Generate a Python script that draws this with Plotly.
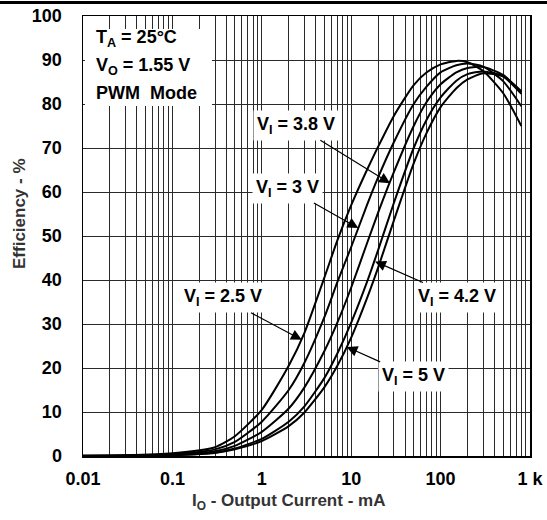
import math
import plotly.graph_objects as go

# ---------------- data ----------------
current_mA = [0.01, 0.03, 0.1, 0.3, 0.5, 1, 2, 3, 5, 7, 10, 15, 20, 30, 50,
              70, 100, 150, 200, 300, 500, 800]

eff_vi_2_5 = [0.05, 0.15, 0.6, 2.0, 4.5, 10.5, 20.5, 28.0, 40.5, 49.0, 57.0,
              65.0, 70.3, 77.3, 84.3, 87.2, 89.0, 89.8, 89.5, 87.5, 82.5, 75.0]
eff_vi_3_0 = [0.04, 0.1, 0.4, 1.5, 3.2, 7.8, 15.0, 21.2, 31.5, 39.5, 47.5,
              57.0, 63.3, 71.3, 80.0, 84.0, 87.2, 88.8, 89.2, 88.5, 85.2, 79.5]
eff_vi_3_8 = [0.03, 0.08, 0.3, 1.1, 2.3, 5.5, 10.8, 15.6, 23.8, 30.3, 38.3,
              48.3, 55.3, 64.5, 75.0, 80.5, 84.5, 87.2, 88.2, 88.4, 86.6, 82.6]
eff_vi_4_2 = [0.02, 0.06, 0.2, 0.8, 1.7, 3.9, 7.8, 11.3, 17.7, 23.3, 30.3,
              39.5, 46.8, 57.5, 70.0, 76.5, 81.5, 85.3, 86.8, 87.4, 86.4, 82.9]
eff_vi_5_0 = [0.02, 0.05, 0.18, 0.7, 1.5, 3.4, 6.8, 9.9, 15.6, 20.5, 26.9,
              35.8, 42.8, 53.5, 66.5, 73.5, 79.3, 83.6, 85.6, 87.0, 86.2, 82.3]

series = [eff_vi_2_5, eff_vi_3_0, eff_vi_3_8, eff_vi_4_2, eff_vi_5_0]
series_names = ["VI = 2.5 V", "VI = 3 V", "VI = 3.8 V", "VI = 4.2 V", "VI = 5 V"]

x_decades = [0.01, 0.1, 1, 10, 100, 1000]
x_decade_labels = ["0.01", "0.1", "1", "10", "100", "1 k"]
y_ticks = [0, 10, 20, 30, 40, 50, 60, 70, 80, 90, 100]

# ---------------- figure ----------------
FONT = "Liberation Sans, Arial, sans-serif"
TXT = 18
GRID = "#2a2a2a"

fig = go.Figure()
for vals, name in zip(series, series_names):
    fig.add_trace(go.Scatter(
        x=current_mA, y=vals, mode="lines", name=name,
        line=dict(color="black", width=2, shape="spline", smoothing=0.6),
        showlegend=False, hoverinfo="skip"))

# minor log grid at 2..9 of each decade
minor_vals = [m * 10 ** e for e in range(-2, 3) for m in range(2, 10)]

fig.update_xaxes(
    type="log", range=[-2, 3],
    tickmode="array", tickvals=x_decades, ticktext=x_decade_labels,
    showgrid=True, gridcolor=GRID, gridwidth=1,
    minor=dict(tickmode="array", tickvals=minor_vals, showgrid=True,
               gridcolor=GRID, gridwidth=1, ticks=""),
    showline=True, linecolor="black", linewidth=1.5, mirror=True,
    ticks="", ticklabelstandoff=6, ticklabeloverflow="allow",
    tickfont=dict(family=FONT, size=TXT, color="black", weight="bold"),
    zeroline=False)
fig.update_yaxes(
    range=[0, 100], tickmode="array", tickvals=y_ticks,
    showgrid=True, gridcolor=GRID, gridwidth=1,
    showline=True, linecolor="black", linewidth=1.5, mirror=True,
    ticks="", ticklabelstandoff=16,
    tickfont=dict(family=FONT, size=TXT, color="black", weight="bold"),
    zeroline=False)

L, R, T, B = 83, 17, 16, 64
W, H = 547, 520
pw, ph = W - L - R, H - T - B


def px_to_paper(px, py):
    return (px - L) / pw, (H - B - py) / ph


shapes = []
# white box behind the conditions text
x0, y1 = px_to_paper(85, 29)
x1, y0 = px_to_paper(212, 106)
shapes.append(dict(type="rect", xref="paper", yref="paper", x0=x0, x1=x1,
                   y0=y0, y1=y1, fillcolor="white", line=dict(width=0),
                   layer="above"))
# top rule
rx0, ry = px_to_paper(0, 2.5)
rx1, _ = px_to_paper(W, 2.5)
shapes.append(dict(type="line", xref="paper", yref="paper", x0=rx0, x1=rx1,
                   y0=ry, y1=ry, line=dict(color="black", width=3),
                   layer="above"))

annotations = []
cond_lines = [("T<sub>A</sub> = 25°C", 39), ("V<sub>O</sub> = 1.55 V", 66),
              ("PWM\u00a0 Mode", 93)]
for txt, py in cond_lines:
    ax_, ay_ = px_to_paper(94, py)
    annotations.append(dict(text="<b>" + txt + "</b>", xref="paper",
                            yref="paper", x=ax_, y=ay_, xanchor="left",
                            yanchor="middle", showarrow=False,
                            font=dict(family=FONT, size=TXT, color="black")))

# curve labels with arrows: (text, tip current, tip efficiency, dx, dy)
arrow_labels = [
    ("V<sub>I</sub> = 3.8 V", 27.2, 62.0, -94, -58),
    ("V<sub>I</sub> = 3 V", 12.0, 51.8, -71, -40),
    ("V<sub>I</sub> = 2.5 V", 2.8, 26.4, -79, -42),
    ("V<sub>I</sub> = 4.2 V", 18.5, 44.2, 82, 36),
    ("V<sub>I</sub> = 5 V", 8.9, 24.8, 67, 30),
]
for txt, xv, yv, dx, dy in arrow_labels:
    annotations.append(dict(
        text="<b>" + txt + "</b>", x=math.log10(xv), y=yv, xref="x", yref="y",
        ax=dx, ay=dy, showarrow=True, arrowhead=2, arrowsize=1.8,
        arrowwidth=1.2, arrowcolor="black", bgcolor="white", borderpad=3,
        font=dict(family=FONT, size=TXT, color="black")))

# axis titles
tx, ty = px_to_paper(20, 214)
annotations.append(dict(text="<b>Efficiency - %</b>", xref="paper",
                        yref="paper", x=tx, y=ty, textangle=-90,
                        showarrow=False, xanchor="center", yanchor="middle",
                        font=dict(family=FONT, size=17, color="#333333")))
tx, ty = px_to_paper(288, 502)
annotations.append(dict(text="<b>I<sub>O</sub> - Output Current - mA</b>",
                        xref="paper", yref="paper", x=tx, y=ty,
                        showarrow=False, xanchor="center", yanchor="middle",
                        font=dict(family=FONT, size=17, color="#333333")))

fig.update_layout(
    width=W, height=H, margin=dict(l=L, r=R, t=T, b=B, autoexpand=False),
    paper_bgcolor="white", plot_bgcolor="white",
    shapes=shapes, annotations=annotations,
    font=dict(family=FONT))

fig.write_html(
    "out.html",
    config={"displayModeBar": False, "staticPlot": True},
    post_script="document.body.style.margin='0px';"
                "document.body.style.overflow='hidden';")
